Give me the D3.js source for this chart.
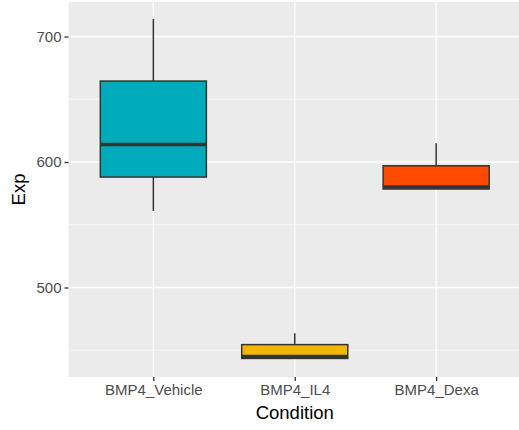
<!DOCTYPE html>
<meta charset="utf-8">
<head>
	<title>Boxplot - Exp by Condition</title>
</head>
<style>
body { margin: 0; background: #fff; }
svg { display: block; font-family: "Liberation Sans", Arial, sans-serif; }
.tick text { fill: #4d4d4d; font-size: 15px; }
</style>
<body>
<svg class="box" width="519" height="430"></svg>

<script src="https://cdnjs.cloudflare.com/ajax/libs/d3/7.8.5/d3.min.js"></script>
<script>

// data
var conditions = ['BMP4_Vehicle', 'BMP4_IL4', 'BMP4_Dexa'];
var lower  = [561, 443.5, 578.5];   // lower whisker end
var q1     = [588, 443.5, 578.5];
var median = [614, 445, 580];
var q3     = [664.5, 454.5, 597];
var upper  = [714, 463.5, 615]; // upper whisker end
var colors = ['#00ACBB', '#F3B700', '#FE4B00'];
var yTicks = [500, 600, 700];

var svg = d3.select('.box');
var panel = {left: 68.5, top: 2, right: 521, bottom: 377};

// discrete x like ggplot: 0.6 expansion on each side
var x = d3.scaleLinear()
	.domain([0.4, conditions.length + 0.6])
	.range([panel.left, panel.right]);

var y = d3.scaleLinear()
	.domain([428.7, 727.5])
	.range([panel.bottom, panel.top]);

// panel background
svg.append('rect')
	.attr('x', panel.left)
	.attr('y', panel.top)
	.attr('width', panel.right - panel.left)
	.attr('height', panel.bottom - panel.top)
	.attr('fill', '#ebebeb');

// minor grid
var minor = [450, 550, 650];
svg.selectAll('.minor')
	.data(minor)
	.enter()
	.append('line')
	.attr('x1', panel.left).attr('x2', panel.right)
	.attr('y1', function(d){ return y(d); })
	.attr('y2', function(d){ return y(d); })
	.attr('stroke', '#fff')
	.attr('stroke-width', 0.6);

// major grid
svg.selectAll('.major')
	.data(yTicks)
	.enter()
	.append('line')
	.attr('x1', panel.left).attr('x2', panel.right)
	.attr('y1', function(d){ return y(d); })
	.attr('y2', function(d){ return y(d); })
	.attr('stroke', '#fff')
	.attr('stroke-width', 1.3);

svg.selectAll('.vgrid')
	.data(conditions)
	.enter()
	.append('line')
	.attr('x1', function(d, i){ return x(i + 1); })
	.attr('x2', function(d, i){ return x(i + 1); })
	.attr('y1', panel.top).attr('y2', panel.bottom)
	.attr('stroke', '#fff')
	.attr('stroke-width', 1.3);

// boxes
var bw = 0.75;
var g = svg.selectAll('.b')
	.data(conditions)
	.enter()
	.append('g');

g.append('line')
	.attr('x1', function(d, i){ return x(i + 1); })
	.attr('x2', function(d, i){ return x(i + 1); })
	.attr('y1', function(d, i){ return y(upper[i]); })
	.attr('y2', function(d, i){ return y(q3[i]); })
	.attr('stroke', '#333')
	.attr('stroke-width', 1.5);

g.append('line')
	.attr('x1', function(d, i){ return x(i + 1); })
	.attr('x2', function(d, i){ return x(i + 1); })
	.attr('y1', function(d, i){ return y(q1[i]); })
	.attr('y2', function(d, i){ return y(lower[i]); })
	.attr('stroke', '#333')
	.attr('stroke-width', 1.5);

g.append('rect')
	.attr('x', function(d, i){ return x(i + 1 - bw / 2); })
	.attr('width', function(d, i){ return x(i + 1 + bw / 2) - x(i + 1 - bw / 2); })
	.attr('y', function(d, i){ return y(q3[i]); })
	.attr('height', function(d, i){ return y(q1[i]) - y(q3[i]); })
	.attr('fill', function(d, i){ return colors[i]; })
	.attr('stroke', '#333')
	.attr('stroke-width', 1.5);

g.append('line')
	.attr('x1', function(d, i){ return x(i + 1 - bw / 2); })
	.attr('x2', function(d, i){ return x(i + 1 + bw / 2); })
	.attr('y1', function(d, i){ return y(median[i]); })
	.attr('y2', function(d, i){ return y(median[i]); })
	.attr('stroke', '#333')
	.attr('stroke-width', 3.5);

// axes
var yAxis = d3.axisLeft(y).tickValues(yTicks).tickSize(4).tickPadding(3);
svg.append('g')
	.attr('transform', 'translate(' + panel.left + ',0)')
	.call(yAxis)
	.call(function(a){ a.select('.domain').remove(); })
	.call(function(a){ a.selectAll('.tick line').attr('stroke', '#333').attr('stroke-width', 1.3); });

var xAxis = d3.axisBottom(x)
	.tickValues([1, 2, 3])
	.tickFormat(function(d){ return conditions[d - 1]; })
	.tickSize(4).tickPadding(3);
svg.append('g')
	.attr('transform', 'translate(0,' + panel.bottom + ')')
	.call(xAxis)
	.call(function(a){ a.select('.domain').remove(); })
	.call(function(a){ a.selectAll('.tick line').attr('stroke', '#333').attr('stroke-width', 1.3); });

// titles
svg.append('text')
	.attr('x', (panel.left + 519) / 2 + 1)
	.attr('y', 419)
	.attr('text-anchor', 'middle')
	.attr('font-size', 18.5)
	.attr('fill', '#000')
	.text('Condition');

svg.append('text')
	.attr('transform', 'translate(25,' + ((panel.top + panel.bottom) / 2) + ') rotate(-90)')
	.attr('text-anchor', 'middle')
	.attr('font-size', 18.5)
	.attr('fill', '#000')
	.text('Exp');

</script>
</body>
</html>
